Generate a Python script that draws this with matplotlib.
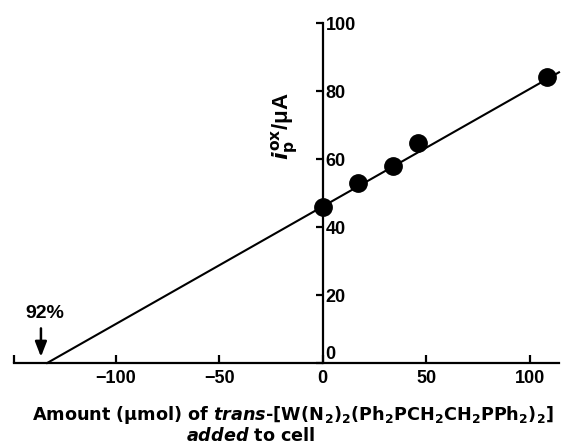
import matplotlib
matplotlib.use("Agg")
import matplotlib.pyplot as plt

plt.rcParams['font.family'] = ['Liberation Sans', 'DejaVu Sans']
plt.rcParams['font.weight'] = 'bold'
plt.rcParams['mathtext.fontset'] = 'custom'
plt.rcParams['mathtext.rm'] = 'DejaVu Sans:bold'
plt.rcParams['mathtext.it'] = 'DejaVu Sans:bold:italic'
plt.rcParams['mathtext.bf'] = 'DejaVu Sans:bold'
plt.rcParams['mathtext.default'] = 'rm'

# data
amount_added = [0, 17, 34, 46, 108]
current = [46, 53, 58, 64.7, 84]
fit_x = [-133, 114]
fit_y = [0, 85.5]
xticks = [-100, -50, 0, 50, 100]
yticks = [0, 20, 40, 60, 80, 100]
arrow_x = -136
xlabel_a = r'Amount (μmol) of $\it{trans}$-[W(N'
xlabel_b = r'${}_2$)$_2$(Ph$_2$PCH$_2$CH$_2$PPh$_2$)$_2$]'
xlabel_2 = r'$\it{added}$ to cell'

W, H = 561, 445
fig = plt.figure(figsize=(W/100, H/100), dpi=100)
ax = fig.add_axes([14/W, (H-363)/H, 545/W, 340/H])
ax.set_xlim(-149, 114)
ax.set_ylim(0, 100)

ax.plot(fit_x, fit_y, color='black', lw=1.5, clip_on=False)
ax.plot(amount_added, current, 'o', color='black', ms=12.5, clip_on=False, zorder=5)

for s in ['top', 'left']:
    ax.spines[s].set_visible(False)
ax.spines['right'].set_position(('data', 0))
ax.spines['right'].set_linewidth(1.6)
ax.spines['bottom'].set_linewidth(1.6)
ax.yaxis.tick_right()
ax.set_yticks(yticks)
ax.set_yticklabels([str(v) for v in yticks])
ax.tick_params(axis='y', direction='in', length=5, width=1.6, pad=2, labelsize=13)
ax.get_yticklabels()[0].set_va('bottom')
ax.set_xticks(xticks)
ax.set_xticklabels([('\u2212' + str(-v)) if v < 0 else str(v) for v in xticks])
ax.set_xticks([-149], minor=True)
ax.tick_params(axis='x', which='both', direction='in', length=6, width=1.6, pad=5, labelsize=13)

ax.annotate('', xy=(arrow_x, 1.0), xytext=(arrow_x, 11.0),
            arrowprops=dict(arrowstyle='-|>,head_length=0.9,head_width=0.35', color='black', lw=1.8))
ax.text(-134, 12, '92%', ha='center', va='bottom', fontsize=14, fontweight='bold')

fig.text(285/W, 1 - 126/H, r'$\it{i}_{\rm p}^{\rm ox}$/μA', rotation=90,
         ha='center', va='center', fontsize=16)

fs = 12.7
ta = fig.text(32/W, 1 - 420/H, xlabel_a, ha='left', va='baseline', fontsize=fs, family='DejaVu Sans')
fig.canvas.draw()
ext = ta.get_window_extent(renderer=fig.canvas.get_renderer())
fig.text(ext.x1/W + 0.5/W, 1 - 420/H, xlabel_b, ha='left', va='baseline', fontsize=fs, family='DejaVu Sans')
fig.text(251/W, 1 - 441/H, xlabel_2, ha='center', va='baseline', fontsize=fs, family='DejaVu Sans')

fig.savefig('out.png', dpi=100)
